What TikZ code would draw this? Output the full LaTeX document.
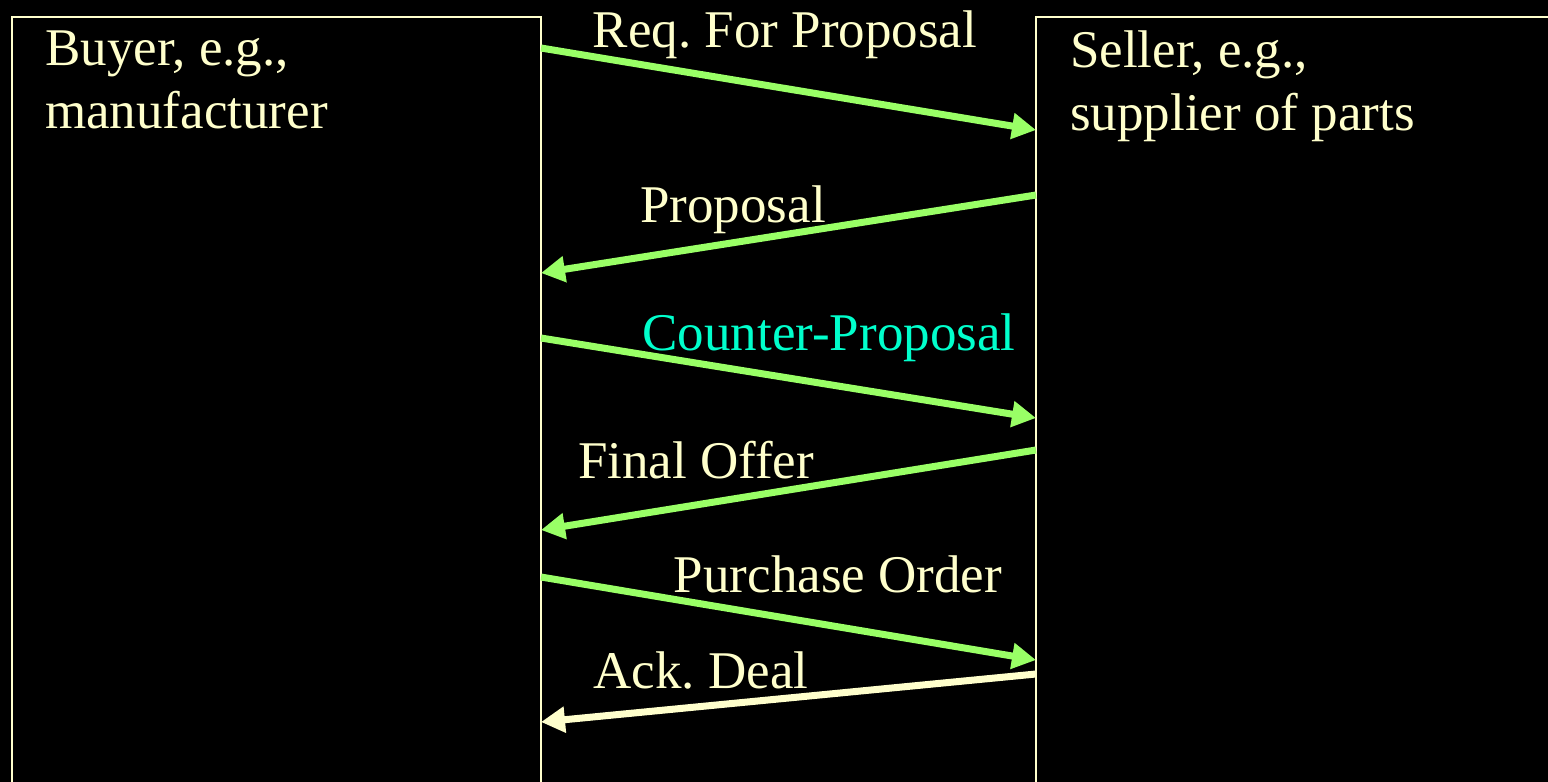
\documentclass[tikz,border=0pt]{standalone}
\usepackage{fontspec}
\setmainfont{Liberation Serif}
\frenchspacing
\usetikzlibrary{arrows.meta}
\definecolor{txtyellow}{HTML}{FFFFCC}
\definecolor{arrgreen}{HTML}{99FF66}
\definecolor{txtcyan}{HTML}{00FFCC}
\begin{document}
\begin{tikzpicture}[x=1pt,y=-1pt,
  party/.style={draw=txtyellow,line width=2.5pt},
  ptext/.style={text=txtyellow,font=\fontsize{53}{63}\selectfont,align=left,inner sep=0pt,anchor=north west},
  msg/.style={text=txtyellow,font=\fontsize{53}{63}\selectfont,inner sep=0pt,anchor=base},
  flow/.style={draw=arrgreen,line width=7pt,-{Triangle[length=24pt,width=25pt]}},
  ackflow/.style={draw=txtyellow,line width=7pt,-{Triangle[length=24pt,width=25pt]}}]
\fill[black] (0,0) rectangle (1548,782);
\useasboundingbox (0,0) rectangle (1548,782);
% parties
\draw[party] (12,800) -- (12,17) -- (541,17) -- (541,800);
\draw[party] (1036,800) -- (1036,17) -- (1560,17);
\node[ptext] (buyer) at (45,31) {Buyer, e.g.,\\manufacturer};
\node[ptext] (seller) at (1070,31) {Seller, e.g.,\\supplier of parts};
% ports on the lifelines
\coordinate (b1) at (541,48);   \coordinate (s1) at (1036,130);
\coordinate (s2) at (1036,195); \coordinate (b2) at (541,273);
\coordinate (b3) at (541,338);  \coordinate (s3) at (1036,418);
\coordinate (s4) at (1036,450); \coordinate (b4) at (541,530);
\coordinate (b5) at (541,577);  \coordinate (s5) at (1036,660);
\coordinate (s6) at (1036,674); \coordinate (b6) at (541,722);
% messages
\draw[flow] (b1) -- (s1);
\draw[flow] (s2) -- (b2);
\draw[flow] (b3) -- (s3);
\draw[flow] (s4) -- (b4);
\draw[flow] (b5) -- (s5);
\draw[ackflow] (s6) -- (b6);
% labels
\node[msg] (l1) at (785,47) {Req. For Proposal};
\node[msg] (l2) at (733,222) {Proposal};
\node[msg,text=txtcyan] (l3) at (829,350) {Counter-Proposal};
\node[msg] (l4) at (696,478) {Final Offer};
\node[msg] (l5) at (838,592) {Purchase Order};
\node[msg] (l6) at (701,688) {Ack. Deal};
\end{tikzpicture}
\end{document}
